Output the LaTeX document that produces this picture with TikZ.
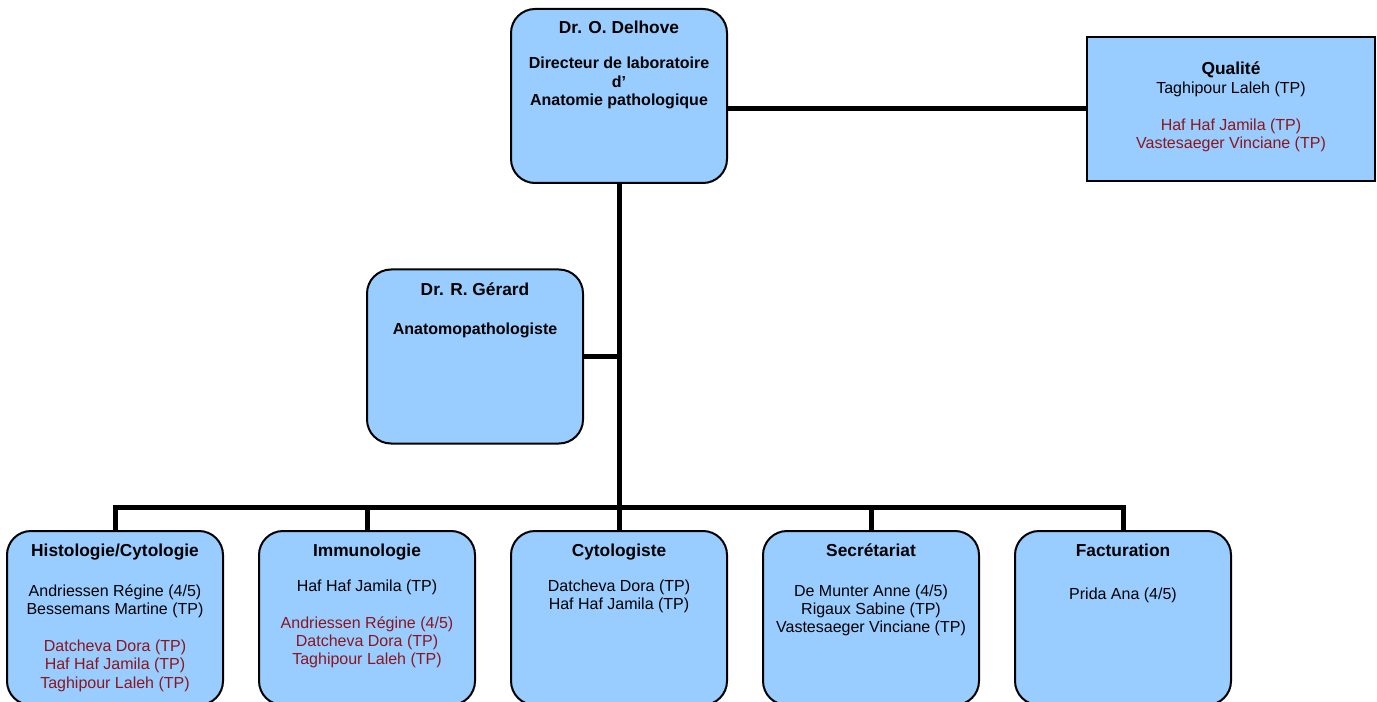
\documentclass[tikz,border=0pt]{standalone}
\usepackage{fontspec}
\setmainfont{Liberation Sans}
\usetikzlibrary{positioning}
\definecolor{boxblue}{HTML}{99CCFF}
\definecolor{namered}{RGB}{140,22,30}
\newcommand{\boxtitle}[1]{{\fontsize{13}{13.7}\selectfont\textbf{#1}}}

\begin{document}
\begin{tikzpicture}[x=0.75pt,y=-0.75pt,
    unit/.style={draw,line width=1.5pt,fill=boxblue,rounded corners=18pt,minimum width=162pt,minimum height=130.5pt,inner sep=0pt},
    txt/.style={align=center,inner sep=0pt,font=\fontsize{12}{13.7}\selectfont},
    link/.style={line width=3.75pt}]
    \path[use as bounding box,clip] (0,0) rectangle (1377,702);
    % boxes
    \node[unit] (dir) at (619,96) {};
    \node[unit,rounded corners=0pt,minimum width=216pt,minimum height=108pt] (qual) at (1231,109) {};
    \node[unit] (ger) at (475,356.5) {};
    \node[unit] (histo) at (115,618) {};
    \node[unit] (immuno) at (367,618) {};
    \node[unit] (cyto) at (619,618) {};
    \node[unit] (secr) at (871,618) {};
    \node[unit] (fact) at (1123,618) {};
    % texts
    \node[txt,below=9.8pt of dir.north] (dir-t) {\boxtitle{Dr. O. Delhove}\\[12.5pt]
        \textbf{Directeur de laboratoire}\\ \textbf{d’}\\ \textbf{Anatomie pathologique}};
    \node[txt,below=18.8pt of qual.north] (qual-t) {\boxtitle{Qualité}\\[1pt]
        Taghipour Laleh (TP)\\[14pt]
        \textcolor{namered}{Haf Haf Jamila (TP)}\\
        \textcolor{namered}{Vastesaeger Vinciane (TP)}};
    \node[txt,below=10.3pt of ger.north] (ger-t) {\boxtitle{Dr. R. Gérard}\\[16pt]
        \textbf{Anatomopathologiste}};
    \node[txt,below=10.1pt of histo.north] (histo-t) {\boxtitle{Histologie/Cytologie}\\[16.3pt]
        Andriessen Régine (4/5)\\ Bessemans Martine (TP)\\[14pt]
        \textcolor{namered}{Datcheva Dora (TP)}\\
        \textcolor{namered}{Haf Haf Jamila (TP)}\\
        \textcolor{namered}{Taghipour Laleh (TP)}};
    \node[txt,below=10.1pt of immuno.north] (immuno-t) {\boxtitle{Immunologie}\\[12.6pt]
        Haf Haf Jamila (TP)\\[14pt]
        \textcolor{namered}{Andriessen Régine (4/5)}\\
        \textcolor{namered}{Datcheva Dora (TP)}\\
        \textcolor{namered}{Taghipour Laleh (TP)}};
    \node[txt,below=10.1pt of cyto.north] (cyto-t) {\boxtitle{Cytologiste}\\[12.6pt]
        Datcheva Dora (TP)\\ Haf Haf Jamila (TP)};
    \node[txt,below=10.1pt of secr.north] (secr-t) {\boxtitle{Secrétariat}\\[16.3pt]
        De Munter Anne (4/5)\\ Rigaux Sabine (TP)\\ Vastesaeger Vinciane (TP)};
    \node[txt,below=10.1pt of fact.north] (fact-t) {\boxtitle{Facturation}\\[19pt]
        Prida Ana (4/5)};
    % connectors
    \coordinate (bus) at (619,507);
    \draw[link] (dir.south) -- (bus);
    \foreach \n in {histo,immuno,cyto,secr,fact}
        \draw[link] (bus) -| (\n.north);
    \draw[link] (ger.east) -- (ger.east -| dir.south);
    \draw[link] (qual.west -| dir.east) -- (qual.west);
\end{tikzpicture}
\end{document}
